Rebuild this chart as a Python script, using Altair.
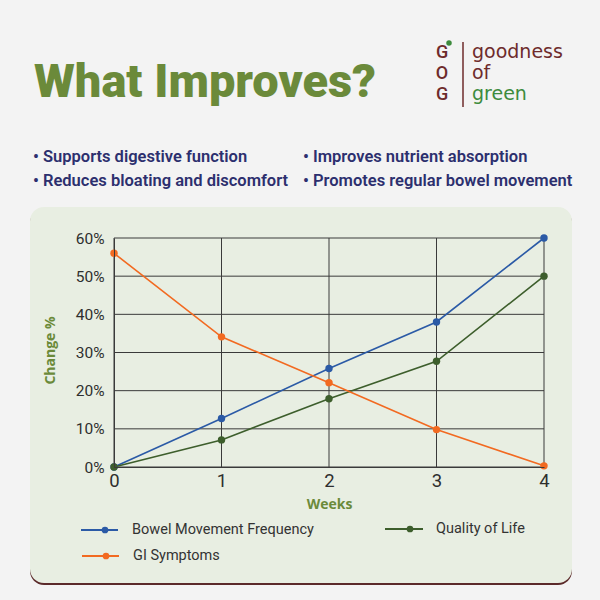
import altair as alt
import pandas as pd

weeks = [0, 1, 2, 3, 4]
bowel = [0, 12.7, 25.8, 38.0, 60]
quality = [0, 7.1, 17.9, 27.7, 50]
gi = [56, 34.1, 22.1, 9.8, 0.3]
y_ticks = [0, 10, 20, 30, 40, 50, 60]
series_names = ["Bowel Movement Frequency", "Quality of Life", "GI Symptoms"]
series_colors = ["#2b5aa6", "#3d5e2c", "#f26a21"]
bullets_left = ["Supports digestive function", "Reduces bloating and discomfort"]
bullets_right = ["Improves nutrient absorption", "Promotes regular bowel movement"]
title_text = "What Improves?"
logo_words = ["goodness", "of", "green"]

rows = []
for name, vals in zip(series_names, [bowel, quality, gi]):
    for w, v in zip(weeks, vals):
        rows.append({"Weeks": w, "Change": v, "Series": name})
df = pd.DataFrame(rows)

one = alt.Data(values=[{}])
OX, OY = 114, 238  # plot origin in page pixels


def px(x):
    return alt.value(x - OX)


def py(y):
    return alt.value(y - OY)


# panel with shadow
shadow = alt.Chart(one).mark_rect(color="#5b2a2a", cornerRadius=14).encode(
    x=px(30), x2=px(572), y=py(209), y2=py(585))
panel = alt.Chart(one).mark_rect(color="#e8eee2", cornerRadius=14).encode(
    x=px(30), x2=px(572), y=py(207), y2=py(583))

xscale = alt.Scale(domain=[0, 4], nice=False)
yscale = alt.Scale(domain=[0, 60], nice=False)

xaxis = alt.Axis(values=weeks, format="d", title="Weeks", grid=False, zindex=1,
                 labelFlush=False, labelOverlap=False,
                 domainColor="#3a3a3a", ticks=False, labelPadding=4, labelFontSize=18.5,
                 labelColor="#2e2e2e", labelFont="Roboto", labelFontWeight=400,
                 titleFont="Open Sans", titleFontWeight="bold", titleFontSize=14,
                 titleColor="#6b8a3a", titleY=37, titleBaseline="middle")
yaxis = alt.Axis(values=y_ticks, labelExpr="datum.value + '%'", zindex=1,
                 labelFlush=False, labelOverlap=False,
                 title="Change %", grid=False, domainColor="#3a3a3a",
                 ticks=False, labelPadding=10, labelFontSize=15.5, labelColor="#2e2e2e",
                 labelFont="Roboto", labelFontWeight=400,
                 titleFont="Open Sans", titleFontWeight="bold", titleFontSize=14,
                 titleColor="#6b8a3a", titleX=-64, titleY=112, titleAngle=-90,
                 titleAlign="center", titleBaseline="middle")

grid_x = alt.Chart(pd.DataFrame({"Weeks": weeks})).mark_rule(color="#3a3a3a", strokeWidth=1).encode(
    x=alt.X("Weeks:Q", scale=xscale, axis=xaxis))
grid_y = alt.Chart(pd.DataFrame({"Change": y_ticks})).mark_rule(color="#3a3a3a", strokeWidth=1).encode(
    y=alt.Y("Change:Q", scale=yscale, axis=yaxis))

color = alt.Color("Series:N", scale=alt.Scale(domain=series_names, range=series_colors), legend=None)
xenc = alt.X("Weeks:Q", scale=xscale, axis=xaxis)
yenc = alt.Y("Change:Q", scale=yscale, axis=yaxis)

lines = alt.Chart(df).mark_line(strokeWidth=1.6).encode(x=xenc, y=yenc, color=color, detail="Series:N")
points = alt.Chart(df).mark_circle(size=55, opacity=1).encode(x=xenc, y=yenc, color=color)

layers = [shadow, panel, grid_x, grid_y, lines, points]

# legend
leg_pos = [(81, 118, 105, 132, 530), (385, 423, 410, 436, 529), (82, 119, 106, 133, 556)]
for name, col, (x1, x2, xp, xt, yy) in zip(series_names, series_colors, leg_pos):
    layers.append(alt.Chart(one).mark_rule(color=col, strokeWidth=2).encode(x=px(x1), x2=px(x2), y=py(yy)))
    layers.append(alt.Chart(one).mark_circle(color=col, size=45, opacity=1).encode(x=px(xp), y=py(yy)))
    layers.append(alt.Chart(one).mark_text(text=name, align="left", baseline="middle", font="Roboto",
                                           fontSize=14.5, color="#333333").encode(x=px(xt), y=py(yy)))

# title
layers.append(alt.Chart(one).mark_text(text=title_text, align="left", baseline="alphabetic",
                                       font="Roboto", fontWeight=900, fontSize=47, color="#6b8a3a")
              .encode(x=px(34), y=py(97)))

# bullets
for i, (l, r) in enumerate(zip(bullets_left, bullets_right)):
    yy = 157 + i * 24
    for xx, t in [(33, l), (303, r)]:
        layers.append(alt.Chart(one).mark_text(text="• " + t, align="left", baseline="middle",
                                               font="Roboto", fontWeight=600, fontSize=16.5,
                                               color="#2c2f6e").encode(x=px(xx), y=py(yy)))

# logo
for i, (g, yy) in enumerate(zip(["G", "O", "G"], [53, 74, 95])):
    layers.append(alt.Chart(one).mark_text(text=g, align="center", baseline="middle", font="Roboto",
                                           fontWeight=500, fontSize=18, color="#6e2b2b")
                  .encode(x=px(442), y=py(yy)))
layers.append(alt.Chart(one).mark_point(shape="circle", filled=True, size=30, color="#3d8b3d", opacity=1)
              .encode(x=px(449), y=py(43)))
layers.append(alt.Chart(one).mark_rule(color="#6e2b2b", strokeWidth=1.5).encode(
    x=px(463), y=py(42), y2=py(107)))
for w, yy, col in zip(logo_words, [52, 73, 94], ["#6e2b2b", "#6e2b2b", "#3d8b3d"]):
    layers.append(alt.Chart(one).mark_text(text=w, align="left", baseline="middle", font="DejaVu Sans",
                                           fontWeight=500, fontSize=19, color=col)
                  .encode(x=px(472), y=py(yy)))

chart = alt.layer(*layers).properties(
    width=430, height=229,
    autosize=alt.AutoSizeParams(type="none"),
    padding={"left": OX, "top": OY, "right": 600 - OX - 430, "bottom": 600 - OY - 229},
    background="#f3f3f3",
).configure_view(stroke=None)

chart.save("out.html", embed_options={"renderer": "svg", "actions": False})
